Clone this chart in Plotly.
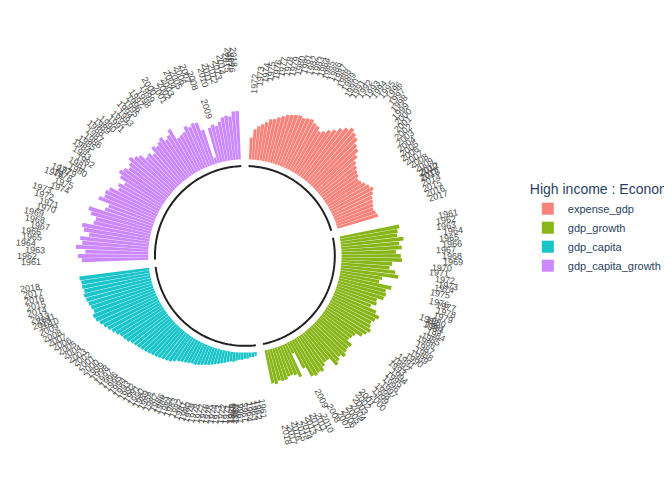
import math
import plotly.graph_objects as go

# bar lengths (relative units, base of bars = 0)
expense_gdp = [18, 25, 28, 30, 32, 35, 36, 38, 40, 42, 43, 44, 45, 44, 45, 46, 44, 43, 40, 42, 45, 48, 52,
               55, 58, 56, 54, 50, 48, 44, 40, 38, 36, 35, 33, 34, 36, 38, 40, 38, 36, 35, 34, 33, 34, 35]
gdp_growth = [50, 48, 47, 52, 48, 50, 45, 49, 50, 42, 40, 45, 48, 35, 33, 44, 40, 41, 40, 35, 36, 32, 38, 42,
              40, 38, 39, 41, 39, 37, 32, 31, 30, 35, 34, 35, 37, 34, 36, 38, 30, 30, 32, 35, 34, 35, 34, 25,
              10, 30, 27, 26, 26, 28, 28, 27, 29, 28]
gdp_capita = [3, 4, 4, 5, 5, 6, 6, 7, 8, 8, 9, 10, 11, 12, 13, 14, 15, 16, 17, 18, 19, 19, 20, 21, 22, 23,
              25, 27, 28, 29, 30, 31, 32, 33, 34, 35, 36, 37, 38, 40, 41, 42, 44, 46, 48, 50, 52, 54, 55, 53,
              54, 55, 56, 57, 56, 57, 57, 58]
gdp_capita_growth = [55, 58, 52, 60, 55, 57, 50, 55, 57, 48, 47, 52, 55, 42, 40, 50, 46, 47, 45, 38, 40, 36,
                     42, 45, 43, 40, 42, 45, 42, 40, 35, 36, 33, 38, 36, 38, 40, 36, 38, 42, 32, 33, 34, 38,
                     36, 38, 37, 30, 5, 30, 32, 30, 33, 36, 37, 36, 40, 40]

groups = [("expense_gdp", expense_gdp, 1972, "#F8766D"),
          ("gdp_growth", gdp_growth, 1961, "#7CAE00"),
          ("gdp_capita", gdp_capita, 1961, "#00BFC4"),
          ("gdp_capita_growth", gdp_capita_growth, 1961, "#C77CFF")]

GAP = 3
BASE = 100
SCALE = 1.25
CX, CY, W, H = 242, 232, 672, 480
total = sum(len(v) for _, v, _, _ in groups) + GAP * len(groups)
step = 360 / total

fig = go.Figure()
ann = []
slot = GAP / 2
for name, vals, start, col in groups:
    thetas = [(slot + i + 0.5) * step for i in range(len(vals))]
    fig.add_trace(go.Barpolar(r=[v * SCALE for v in vals], theta=thetas, base=BASE, width=step * 0.9,
                              name=name, marker=dict(color=col, line=dict(width=0)), opacity=0.9))
    # inner arc for the group
    arc = [slot * step + k * (len(vals) * step) / 60 for k in range(61)]
    fig.add_trace(go.Scatterpolar(r=[93] * 61, theta=arc, mode="lines", showlegend=False,
                                  line=dict(color="#222", width=2), hoverinfo="skip"))
    for i, (t, v) in enumerate(zip(thetas, vals)):
        rr = BASE + v * SCALE + 62
        a = math.radians(t)
        ang = t - 90 if t < 180 else t - 270
        ann.append(dict(x=(CX + rr * math.sin(a)) / W, y=(CY + rr * math.cos(a)) / H, xref="paper",
                        yref="paper", text=str(start + i), showarrow=False, textangle=ang,
                        font=dict(size=9, color="#4d4d4d")))
    slot += len(vals) + GAP

fig.update_layout(
    width=672, height=480, margin=dict(l=0, r=0, t=0, b=0),
    paper_bgcolor="white", font=dict(family="Liberation Sans"),
    polar=dict(domain=dict(x=[0, 0.72], y=[0, 0.967]), bgcolor="white",
               radialaxis=dict(range=[0, 240], visible=False),
               angularaxis=dict(visible=False, direction="clockwise", rotation=90)),
    bargap=0,
    annotations=ann,
    legend=dict(x=0.79, y=0.65, yanchor="top", title=dict(text="High income : Economy", font=dict(size=14)),
                font=dict(size=11), itemsizing="constant"),
)
fig.write_html("out.html")
